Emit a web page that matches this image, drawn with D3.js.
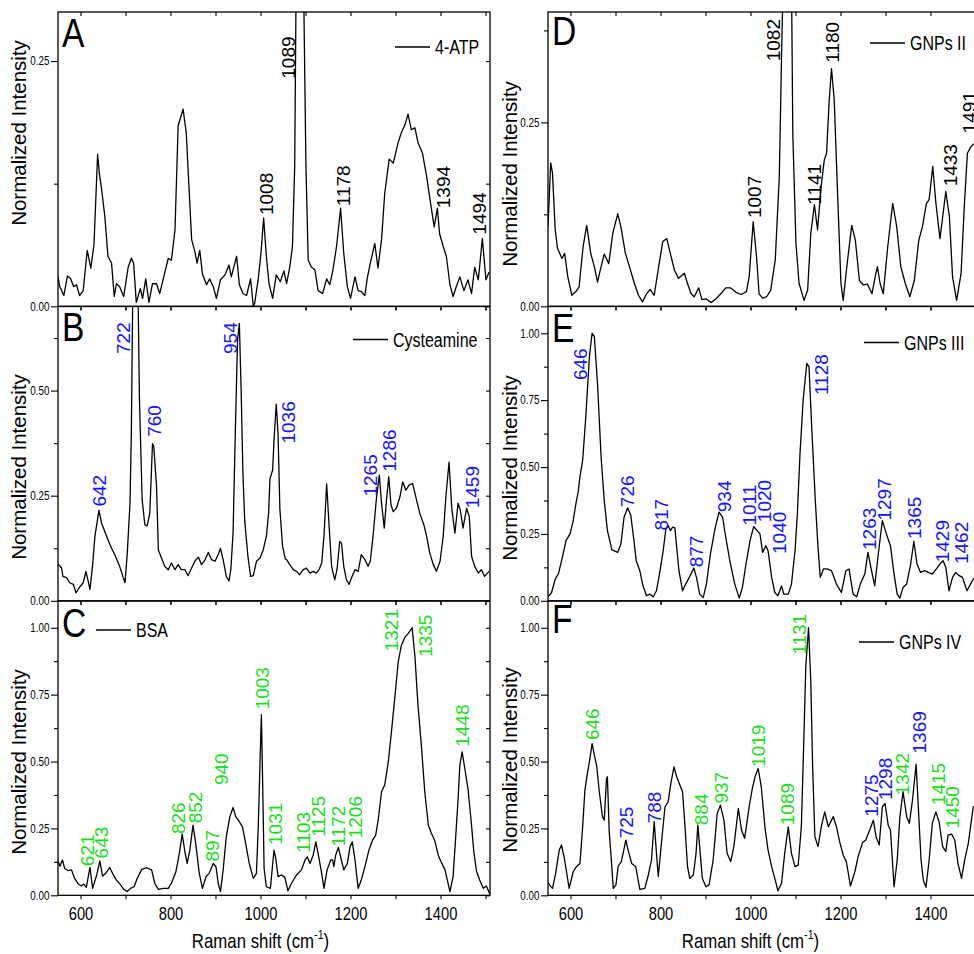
<!DOCTYPE html>
<html>
<head>
<meta charset="utf-8">
<style>
  body { margin: 0; background: #fff; }
  svg { display: block; }
  text { font-family: 'Liberation Sans', Arial, sans-serif; }
  .peak { font-size: 19px; }
</style>
</head>
<body>
<div id="container"></div>
<script src="https://cdn.jsdelivr.net/npm/d3@7"></script>
<script>

// ---- data ----

const xTicks = [600, 700, 800, 900, 1000, 1100, 1200, 1300, 1400, 1500];
const xTickLabels = [600, 800, 1000, 1200, 1400];
const yMajor = [0, 0.25, 0.5, 0.75, 1.0];
const yMinor = [0.125, 0.375, 0.625, 0.875];

const atp = [[550,0.030],[554,0.020],[563,0.011],[571,0.031],[578,0.028],[585,0.020],[591,0.022],[598,0.011],[606,0.016],[615,0.057],[623,0.039],[630,0.063],[638,0.155],[642,0.135],[647,0.119],[654,0.092],[661,0.051],[669,0.044],[675,0.010],[680,0.023],[687,0.020],[696,0.010],[706,0.040],[713,0.049],[718,0.044],[724,0.004],[733,0.018],[738,0.008],[745,0.028],[752,0.004],[760,0.023],[769,0.023],[776,0.013],[785,0.030],[795,0.049],[802,0.047],[810,0.078],[817,0.184],[822,0.192],[828,0.201],[835,0.177],[841,0.122],[847,0.068],[854,0.056],[859,0.044],[865,0.057],[871,0.033],[880,0.022],[887,0.028],[895,0.020],[902,0.008],[911,0.027],[921,0.032],[930,0.042],[935,0.030],[947,0.051],[953,0.022],[961,0.013],[969,0.011],[978,0.028],[984,0.000],[987,0.003],[995,0.028],[1001,0.054],[1007,0.090],[1013,0.051],[1019,0.023],[1027,0.008],[1035,0.032],[1044,0.025],[1052,0.036],[1058,0.023],[1065,0.040],[1071,0.061],[1076,0.143],[1079,0.32],[1085,0.75],[1091,0.75],[1096,0.32],[1101,0.143],[1106,0.047],[1113,0.040],[1121,0.037],[1128,0.016],[1138,0.013],[1147,0.028],[1154,0.022],[1161,0.037],[1169,0.061],[1178,0.100],[1185,0.054],[1193,0.020],[1200,0.008],[1210,0.030],[1217,0.016],[1224,0.015],[1232,0.011],[1237,0.028],[1244,0.044],[1254,0.064],[1261,0.039],[1269,0.068],[1276,0.115],[1286,0.150],[1295,0.146],[1306,0.167],[1313,0.177],[1321,0.185],[1328,0.196],[1335,0.180],[1343,0.182],[1350,0.167],[1360,0.156],[1369,0.133],[1378,0.105],[1386,0.081],[1393,0.100],[1398,0.074],[1406,0.061],[1413,0.051],[1421,0.022],[1428,0.010],[1435,0.020],[1443,0.030],[1452,0.016],[1461,0.027],[1469,0.013],[1476,0.040],[1484,0.027],[1493,0.069],[1501,0.027],[1508,0.035]];

const cysteamine = [[550,0.088],[558,0.078],[561,0.058],[569,0.055],[576,0.043],[584,0.039],[590,0.019],[597,0.031],[606,0.043],[612,0.070],[617,0.047],[621,0.027],[627,0.086],[632,0.153],[641,0.215],[647,0.184],[654,0.165],[661,0.145],[669,0.125],[676,0.110],[687,0.082],[695,0.055],[699,0.043],[704,0.114],[710,0.232],[713,0.40],[716,0.72],[722,0.85],[728,0.72],[731,0.48],[737,0.24],[743,0.181],[748,0.178],[754,0.208],[760,0.374],[763,0.366],[769,0.271],[773,0.121],[780,0.102],[787,0.082],[795,0.074],[802,0.090],[810,0.074],[817,0.086],[824,0.074],[832,0.074],[839,0.060],[847,0.078],[854,0.094],[862,0.104],[869,0.086],[876,0.096],[884,0.115],[891,0.098],[899,0.094],[906,0.110],[911,0.125],[917,0.098],[924,0.058],[930,0.047],[934,0.074],[939,0.16],[944,0.40],[949,0.62],[953,0.66],[957,0.50],[961,0.30],[965,0.19],[972,0.106],[978,0.058],[984,0.060],[991,0.094],[999,0.102],[1006,0.121],[1013,0.153],[1018,0.208],[1021,0.29],[1027,0.311],[1030,0.382],[1035,0.468],[1039,0.397],[1043,0.22],[1049,0.13],[1055,0.100],[1058,0.098],[1065,0.086],[1073,0.074],[1080,0.070],[1087,0.062],[1095,0.074],[1102,0.078],[1110,0.066],[1117,0.070],[1124,0.066],[1130,0.074],[1136,0.090],[1141,0.153],[1147,0.278],[1153,0.169],[1158,0.082],[1165,0.050],[1170,0.074],[1176,0.141],[1180,0.137],[1185,0.082],[1191,0.050],[1197,0.039],[1202,0.054],[1210,0.074],[1217,0.070],[1224,0.110],[1232,0.098],[1239,0.082],[1244,0.094],[1250,0.153],[1258,0.248],[1264,0.299],[1269,0.232],[1275,0.173],[1280,0.240],[1285,0.295],[1290,0.228],[1295,0.212],[1302,0.220],[1310,0.248],[1316,0.283],[1323,0.263],[1330,0.275],[1338,0.279],[1345,0.248],[1354,0.208],[1363,0.181],[1370,0.149],[1376,0.114],[1384,0.086],[1391,0.070],[1399,0.094],[1406,0.153],[1412,0.248],[1419,0.33],[1425,0.22],[1432,0.161],[1439,0.232],[1444,0.216],[1450,0.173],[1458,0.220],[1464,0.200],[1469,0.106],[1476,0.082],[1484,0.066],[1491,0.074],[1498,0.058],[1508,0.070]];

const bsa = [[550,0.13],[554,0.109],[560,0.132],[565,0.10],[573,0.092],[580,0.095],[587,0.063],[595,0.042],[602,0.035],[607,0.042],[613,0.030],[621,0.104],[627,0.026],[636,0.076],[643,0.129],[649,0.072],[656,0.082],[665,0.104],[673,0.076],[680,0.057],[689,0.039],[696,0.022],[704,0.014],[711,0.026],[719,0.032],[726,0.063],[736,0.097],[747,0.103],[758,0.095],[765,0.045],[773,0.022],[784,0.026],[795,0.026],[802,0.045],[812,0.088],[819,0.150],[826,0.229],[832,0.163],[837,0.119],[843,0.169],[850,0.262],[856,0.194],[864,0.082],[871,0.026],[879,0.070],[886,0.082],[895,0.119],[901,0.107],[906,0.045],[911,0.014],[917,0.095],[924,0.219],[932,0.294],[939,0.328],[945,0.294],[953,0.275],[960,0.256],[967,0.194],[975,0.119],[984,0.063],[991,0.082],[995,0.256],[999,0.5],[1002,0.675],[1005,0.4],[1008,0.1],[1013,0.032],[1022,0.026],[1030,0.169],[1034,0.138],[1039,0.070],[1047,0.076],[1054,0.067],[1061,0.017],[1069,0.045],[1080,0.076],[1091,0.095],[1099,0.132],[1104,0.144],[1110,0.119],[1117,0.150],[1123,0.200],[1128,0.157],[1136,0.082],[1141,0.026],[1148,0.095],[1156,0.132],[1160,0.132],[1163,0.107],[1167,0.150],[1173,0.179],[1178,0.144],[1185,0.095],[1193,0.119],[1199,0.182],[1204,0.200],[1210,0.132],[1217,0.026],[1224,0.057],[1232,0.107],[1241,0.169],[1249,0.206],[1256,0.225],[1262,0.287],[1269,0.387],[1276,0.412],[1284,0.499],[1291,0.611],[1299,0.748],[1306,0.872],[1313,0.934],[1321,0.965],[1328,0.978],[1337,1.0],[1343,0.897],[1350,0.710],[1358,0.549],[1365,0.387],[1373,0.262],[1380,0.231],[1387,0.206],[1395,0.150],[1400,0.130],[1410,0.095],[1421,0.014],[1428,0.070],[1435,0.25],[1439,0.356],[1443,0.486],[1448,0.536],[1454,0.474],[1461,0.399],[1469,0.262],[1474,0.163],[1480,0.090],[1487,0.057],[1495,0.026],[1502,0.035],[1509,0.007]];

const gnps2 = [[550,0.108],[556,0.195],[560,0.181],[566,0.104],[571,0.079],[581,0.065],[587,0.072],[594,0.040],[603,0.015],[612,0.020],[619,0.026],[628,0.081],[636,0.110],[645,0.072],[653,0.054],[660,0.033],[668,0.054],[675,0.071],[685,0.058],[694,0.099],[705,0.126],[712,0.108],[722,0.072],[731,0.054],[742,0.031],[751,0.015],[760,0.006],[769,0.017],[777,0.023],[786,0.015],[796,0.054],[805,0.088],[814,0.092],[821,0.074],[831,0.049],[840,0.038],[853,0.045],[860,0.031],[868,0.017],[875,0.013],[885,0.025],[892,0.009],[902,0.010],[912,0.005],[923,0.010],[934,0.017],[945,0.025],[956,0.025],[968,0.019],[979,0.016],[991,0.020],[997,0.040],[1006,0.115],[1014,0.063],[1019,0.017],[1027,0.011],[1036,0.013],[1045,0.022],[1055,0.063],[1064,0.176],[1070,0.372],[1073,0.45],[1078,0.8],[1087,0.8],[1091,0.45],[1094,0.235],[1101,0.085],[1108,0.031],[1119,0.008],[1127,0.022],[1134,0.099],[1142,0.138],[1149,0.104],[1157,0.163],[1164,0.199],[1169,0.208],[1175,0.281],[1180,0.323],[1186,0.281],[1194,0.145],[1201,0.031],[1206,0.008],[1214,0.054],[1225,0.110],[1233,0.090],[1242,0.035],[1251,0.029],[1260,0.030],[1270,0.017],[1277,0.040],[1282,0.054],[1288,0.031],[1295,0.017],[1305,0.081],[1316,0.140],[1325,0.108],[1334,0.054],[1344,0.031],[1354,0.013],[1364,0.035],[1374,0.090],[1382,0.108],[1391,0.140],[1397,0.145],[1405,0.190],[1412,0.140],[1421,0.092],[1428,0.126],[1434,0.156],[1442,0.122],[1449,0.040],[1458,0.008],[1468,0.045],[1475,0.135],[1482,0.208],[1490,0.217],[1499,0.222],[1508,0.228]];

const gnps3 = [[550,0.015],[558,0.031],[565,0.075],[568,0.0875],[573,0.100],[582,0.163],[590,0.225],[599,0.250],[606,0.300],[612,0.3625],[617,0.406],[621,0.463],[627,0.525],[634,0.6875],[642,0.9125],[648,1.0],[653,0.9875],[660,0.8125],[668,0.5375],[675,0.375],[682,0.2625],[692,0.19],[705,0.181],[712,0.2125],[719,0.3125],[727,0.3475],[734,0.319],[741,0.225],[746,0.15],[754,0.1125],[761,0.056],[769,0.019],[776,0.025],[784,0.015],[791,0.0375],[799,0.1125],[806,0.1875],[812,0.269],[817,0.281],[822,0.2625],[827,0.275],[832,0.2725],[836,0.2],[841,0.1125],[849,0.0375],[856,0.0625],[864,0.0875],[874,0.1225],[880,0.0875],[887,0.025],[895,0.0125],[902,0.0625],[911,0.175],[921,0.269],[930,0.331],[938,0.3125],[945,0.2375],[954,0.15],[965,0.0625],[975,0.01],[982,0.05],[990,0.1375],[999,0.225],[1007,0.2775],[1015,0.2625],[1021,0.25],[1027,0.181],[1034,0.206],[1039,0.1875],[1047,0.0875],[1054,0.031],[1061,0.019],[1069,0.056],[1074,0.025],[1084,0.025],[1091,0.0625],[1099,0.1875],[1104,0.32],[1110,0.55],[1117,0.75],[1125,0.8875],[1130,0.875],[1136,0.65],[1144,0.375],[1150,0.2],[1155,0.0875],[1162,0.119],[1170,0.119],[1180,0.1125],[1191,0.0625],[1202,0.031],[1212,0.1125],[1219,0.119],[1228,0.025],[1236,0.015],[1244,0.0625],[1254,0.1],[1261,0.181],[1269,0.1125],[1276,0.056],[1284,0.175],[1293,0.3],[1302,0.25],[1311,0.206],[1319,0.1],[1326,0.025],[1332,0.01],[1339,0.05],[1347,0.0625],[1356,0.1375],[1363,0.2225],[1370,0.1375],[1378,0.106],[1387,0.1125],[1395,0.106],[1404,0.1],[1413,0.119],[1421,0.1375],[1428,0.15],[1434,0.125],[1441,0.0375],[1449,0.0875],[1456,0.106],[1464,0.094],[1471,0.0875],[1481,0.0375],[1495,0.081],[1508,0.09]];

const gnps4 = [[550,0.05],[553,0.039],[560,0.026],[567,0.082],[575,0.169],[580,0.188],[587,0.132],[597,0.026],[606,0.088],[613,0.107],[621,0.119],[627,0.256],[632,0.393],[637,0.45],[642,0.499],[648,0.567],[653,0.524],[658,0.486],[664,0.387],[671,0.294],[675,0.281],[680,0.437],[682,0.443],[686,0.238],[690,0.150],[695,0.026],[701,0.039],[706,0.109],[713,0.126],[723,0.206],[728,0.169],[736,0.119],[745,0.107],[754,0.022],[765,0.026],[773,0.076],[780,0.132],[786,0.275],[791,0.157],[795,0.070],[802,0.194],[810,0.331],[817,0.349],[823,0.418],[830,0.480],[836,0.443],[843,0.412],[849,0.387],[854,0.269],[860,0.107],[865,0.063],[873,0.076],[879,0.157],[883,0.262],[887,0.182],[893,0.063],[901,0.032],[908,0.039],[917,0.132],[926,0.306],[933,0.337],[941,0.281],[948,0.157],[956,0.126],[963,0.182],[973,0.325],[980,0.244],[987,0.213],[997,0.331],[1004,0.399],[1010,0.443],[1017,0.474],[1024,0.405],[1032,0.256],[1039,0.169],[1047,0.107],[1054,0.063],[1061,0.017],[1069,0.045],[1076,0.157],[1084,0.256],[1091,0.157],[1099,0.107],[1106,0.113],[1113,0.256],[1117,0.49],[1123,0.859],[1129,1.0],[1134,0.797],[1138,0.486],[1143,0.22],[1150,0.182],[1158,0.262],[1165,0.312],[1173,0.256],[1184,0.294],[1191,0.256],[1199,0.194],[1206,0.150],[1213,0.126],[1222,0.035],[1232,0.088],[1239,0.144],[1249,0.197],[1256,0.206],[1265,0.244],[1273,0.281],[1279,0.219],[1286,0.188],[1293,0.331],[1299,0.343],[1306,0.262],[1311,0.244],[1319,0.032],[1326,0.132],[1332,0.294],[1339,0.387],[1347,0.294],[1353,0.269],[1360,0.356],[1368,0.490],[1372,0.36],[1379,0.132],[1384,0.057],[1390,0.030],[1397,0.132],[1404,0.269],[1412,0.312],[1419,0.275],[1427,0.182],[1434,0.163],[1439,0.225],[1447,0.229],[1454,0.206],[1461,0.119],[1469,0.063],[1476,0.132],[1484,0.194],[1495,0.331],[1508,0.34]];

// peak labels: [text, wavenumber where the label sits, intensity where the text starts, colour key]
const atpPeaks = [["1008",1013,0.093,"k"],["1089",1061,0.232,"k"],["1178",1184,0.102,"k"],["1394",1406,0.100,"k"],["1494",1487,0.073,"k"]];
const cysPeaks = [["642",641,0.224,"b"],["722",695,0.587,"b"],["760",763,0.390,"b"],["954",933,0.587,"b"],["1036",1062,0.374,"b"],["1265",1243,0.248,"b"],["1286",1286,0.307,"b"],["1459",1471,0.220,"b"]];
const bsaPeaks = [["621",615,0.109,"g"],["643",647,0.138,"g"],["826",817,0.229,"g"],["852",854,0.269,"g"],["897",893,0.126,"g"],["940",913,0.412,"g"],["1003",1004,0.695,"g"],["1031",1032,0.188,"g"],["1103",1095,0.159,"g"],["1125",1128,0.219,"g"],["1172",1173,0.182,"g"],["1206",1210,0.213,"g"],["1321",1291,0.912,"g"],["1335",1365,0.891,"g"],["1448",1449,0.555,"g"]];
const gnps2Peaks = [["1007",1008,0.120,"k"],["1082",1050,0.333,"k"],["1141",1142,0.138,"k"],["1180",1182,0.331,"k"],["1433",1443,0.163,"k"],["1491",1486,0.235,"k"]];
const gnps3Peaks = [["646",622,0.825,"b"],["726",727,0.35,"b"],["817",802,0.2625,"b"],["877",879,0.125,"b"],["934",942,0.331,"b"],["1011",997,0.281,"b"],["1020",1031,0.294,"b"],["1040",1064,0.175,"b"],["1128",1156,0.769,"b"],["1263",1263,0.190,"b"],["1297",1297,0.3,"b"],["1365",1364,0.231,"b"],["1429",1427,0.144,"b"],["1462",1468,0.1375,"b"]];
const gnps4Peaks = [["646",648,0.580,"g"],["725",724,0.213,"b"],["788",785,0.269,"b"],["884",890,0.262,"g"],["937",934,0.343,"g"],["1019",1016,0.480,"g"],["1089",1082,0.262,"g"],["1131",1108,0.899,"g"],["1275",1268,0.294,"b"],["1298",1299,0.356,"b"],["1342",1338,0.374,"g"],["1369",1374,0.530,"b"],["1415",1416,0.337,"g"],["1450",1448,0.250,"g"]];

const peakColor = { k: "#000", b: "#1414ff", g: "#1be01b" };

// ---- layout ----
const width = 974, height = 954;
const colX = [58, 548];
const rowY = [12, 306.5, 601];
const plotW = 432, plotH = 294.3;
const NARROW = 0.82;   // no Arial Narrow installed, squeeze Liberation Sans instead

const panels = [
  { letter: "A", name: "4-ATP",      data: atp,        peaks: atpPeaks,   ymax: 0.30, col: 0, row: 0, legX: 337, legY: 35,  letY: 35,  titleY: 133 },
  { letter: "B", name: "Cysteamine", data: cysteamine, peaks: cysPeaks,   ymax: 0.70, col: 0, row: 1, legX: 295, legY: 33,  letY: 34,  titleY: 467 },
  { letter: "C", name: "BSA",        data: bsa,        peaks: bsaPeaks,   ymax: 1.10, col: 0, row: 2, legX: 38,  legY: 29,  letY: 36,  titleY: 762 },
  { letter: "D", name: "GNPs II",    data: gnps2,      peaks: gnps2Peaks, ymax: 0.40, col: 1, row: 0, legX: 322, legY: 31,  letY: 33,  titleY: 174 },
  { letter: "E", name: "GNPs III",   data: gnps3,      peaks: gnps3Peaks, ymax: 1.10, col: 1, row: 1, legX: 316, legY: 36,  letY: 35,  titleY: 468 },
  { letter: "F", name: "GNPs IV",    data: gnps4,      peaks: gnps4Peaks, ymax: 1.10, col: 1, row: 2, legX: 311, legY: 41,  letY: 32,  titleY: 760 }
];

const svg = d3.create("svg")
    .attr("width", width)
    .attr("height", height)
    .attr("viewBox", [0, 0, width, height]);

const x = d3.scaleLinear().domain([550, 1510]).range([0, plotW]);
const fmt = d3.format(".2f");

function narrow(sel, px, py) {
  return sel.attr("transform", `translate(${px},${py}) scale(${NARROW},1)`);
}

panels.forEach((p, i) => {
  const left = colX[p.col], top = rowY[p.row];
  const y = d3.scaleLinear().domain([0, p.ymax]).range([plotH, 0]);
  const g = svg.append("g").attr("transform", `translate(${left},${top})`);

  g.append("clipPath").attr("id", "clip" + i)
    .append("rect").attr("width", plotW).attr("height", plotH);

  // spectrum
  const line = d3.line().x(d => x(d[0])).y(d => y(d[1]));
  g.append("path")
    .datum(p.data)
    .attr("clip-path", `url(#clip${i})`)
    .attr("fill", "none")
    .attr("stroke", "#000")
    .attr("stroke-width", 1.3)
    .attr("stroke-linejoin", "round")
    .attr("d", line);

  // ticks: left outward, right / top inward, bottom outward
  const major = yMajor.filter(v => v <= p.ymax);
  const minor = yMinor.filter(v => v <= p.ymax);

  const yl = g.append("g")
    .call(d3.axisLeft(y).tickValues(major).tickSize(7).tickPadding(3.5).tickFormat(fmt));
  yl.append("g").call(d3.axisLeft(y).tickValues(minor).tickSize(4).tickFormat(""));

  const yr = g.append("g").attr("transform", `translate(${plotW},0)`);
  yr.call(d3.axisLeft(y).tickValues(major.concat(minor)).tickSize(4).tickFormat(""));

  g.append("g").call(d3.axisBottom(x).tickValues(xTicks).tickSize(4).tickFormat(""));

  const xb = g.append("g").attr("transform", `translate(0,${plotH})`)
    .call(d3.axisBottom(x).tickValues(xTicks).tickSize(4).tickPadding(8)
      .tickFormat(d => (p.row === 2 && xTickLabels.includes(d)) ? d : ""));

  svg.selectAll(".domain").remove();
  g.selectAll(".tick line").attr("stroke", "#000").attr("stroke-width", 1.1);
  yl.selectAll("text").attr("font-size", 12).attr("fill", "#000")
    .attr("font-family", null).attr("transform", `scale(${NARROW},1)`);
  xb.selectAll("text").attr("font-size", 18).attr("fill", "#000")
    .attr("font-family", null).attr("transform", `scale(${NARROW},1)`);

  // frame
  g.append("rect")
    .attr("width", plotW).attr("height", plotH)
    .attr("fill", "none").attr("stroke", "#000").attr("stroke-width", 1.3);

  // panel letter
  g.append("text").call(narrow, 4, p.letY)
    .attr("font-size", 41).text(p.letter);

  // legend
  g.append("line")
    .attr("x1", p.legX).attr("x2", p.legX + 35)
    .attr("y1", p.legY).attr("y2", p.legY)
    .attr("stroke", "#000").attr("stroke-width", 1.3);
  g.append("text").call(narrow, p.legX + 40, p.legY)
    .attr("dy", "0.36em")
    .attr("font-size", 19.5).text(p.name);

  // peak labels
  g.selectAll(".peak").data(p.peaks).enter().append("text")
    .attr("class", "peak")
    .attr("transform", d => `translate(${x(d[1])},${y(d[2])}) rotate(-90)`)
    .attr("dy", "0.36em")
    .attr("fill", d => peakColor[d[3]])
    .text(d => d[0]);

  // y title
  svg.append("text")
    .attr("transform", `translate(${p.col === 0 ? 19 : 510},${p.titleY}) rotate(-90)`)
    .attr("text-anchor", "middle").attr("dy", "0.36em")
    .attr("font-size", 20.5)
    .text("Normalized Intensity");

  // x title under the bottom row
  if (p.row === 2) {
    const t = svg.append("text").call(narrow, left + x(1000), 948)
      .attr("text-anchor", "middle").attr("font-size", 20.5);
    t.append("tspan").text("Raman shift (cm");
    t.append("tspan").attr("font-size", 13).attr("dy", -9).text("-1");
    t.append("tspan").attr("dy", 9).text(")");
  }
});

container.append(svg.node());

</script>
</body>
</html>
